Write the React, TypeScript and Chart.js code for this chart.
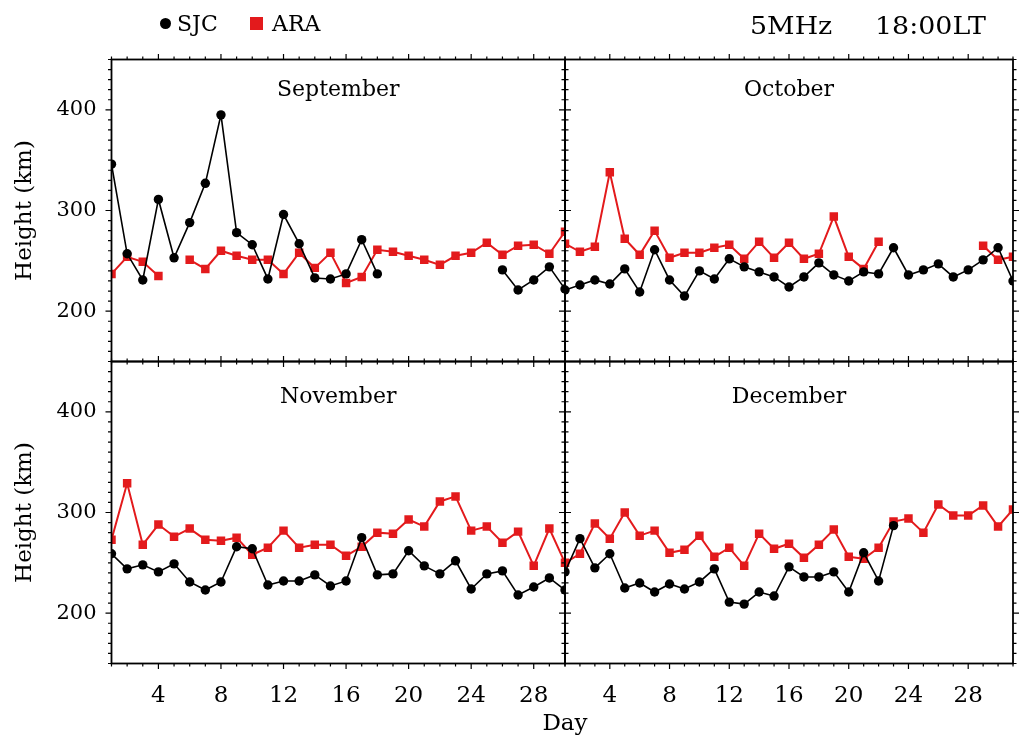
import React, { useEffect, useRef } from 'react';
import { Chart, registerables } from 'chart.js';

Chart.register(...registerables);

// Virtual height (km) of the 5 MHz trace at 18:00 LT, one value per day
const sepSJC = [346, 257, 231, 311, 253, 288, 327, 395, 278, 266, 232, 296, 267, 233, 232, 237, 271, 237, null, null, null, null, null, null, null, 241, 221, 231, 244, 222];
const sepARA = [237, 254, 249, 235, null, 251, 242, 260, 255, 251, 251, 237, 258, 243, 258, 228, 234, 261, 259, 255, 251, 246, 255, 258, 268, 256, 265, 266, 257, 279];
const octSJC = [221, 226, 231, 227, 242, 219, 261, 231, 215, 240, 232, 252, 244, 239, 234, 224, 234, 248, 236, 230, 239, 237, 263, 236, 241, 247, 234, 241, 251, 263, 230];
const octARA = [267, 259, 264, 338, 272, 256, 280, 253, 258, 258, 263, 266, 252, 269, 253, 268, 252, 257, 294, 254, 242, 269, null, null, null, null, null, null, 265, 251, 254];
const novSJC = [259, 244, 248, 241, 249, 231, 223, 231, 266, 264, 228, 232, 232, 238, 227, 232, 275, 238, 239, 262, 247, 239, 252, 224, 239, 242, 218, 226, 235, 223];
const novARA = [273, 329, 268, 288, 276, 284, 273, 272, 275, 258, 265, 282, 265, 268, 268, 257, 266, 280, 279, 293, 286, 311, 316, 282, 286, 270, 281, 247, 284, 250];
const decSJC = [241, 274, 245, 259, 225, 230, 221, 229, 224, 231, 244, 211, 209, 221, 217, 246, 236, 236, 241, 221, 260, 232, 287, null, null, null, null, null, null, null, null];
const decARA = [250, 259, 289, 274, 300, 277, 282, 260, 263, 277, 256, 265, 247, 279, 264, 269, 255, 268, 283, 256, 254, 265, 291, 294, 280, 308, 297, 297, 307, 286, 303];

const panelTitles = ['September', 'October', 'November', 'December'];
const yTickValues = [200, 300, 400];
const xTickValues = [4, 8, 12, 16, 20, 24, 28];
const heightRange = [150, 450];

const SERIF = '"DejaVu Serif", serif';
const RED = '#e31a1c';
const W = 1019;
const H = 738;

// Panel frame edges in page pixels
const LEFT = 111.5;
const MIDX = 565;
const RIGHT = 1017.5;
const TOP = 59.5;
const MIDY = 361.5;
const BOTTOM = 663.5;
const XAXIS_H = 50;

const toPoints = (vals: (number | null)[]) => vals.map((v, i) => ({ x: i + 1, y: v }));

// Draws the box around each panel, outward ticks (major/minor) and the month name
const framePlugin = {
  id: 'panelFrame',
  afterDraw(chart: any, _args: any, opts: any) {
    const { ctx, chartArea: a } = chart;
    const xs = chart.scales.x;
    const ys = chart.scales.y;
    ctx.save();
    ctx.strokeStyle = '#000';
    ctx.lineWidth = 1.2;
    ctx.beginPath();
    for (let d = xs.min; d <= xs.max; d++) {
      const px = xs.getPixelForValue(d);
      const len = d % 4 === 0 ? 5.5 : 3;
      ctx.moveTo(px, a.bottom);
      ctx.lineTo(px, a.bottom + len);
      ctx.moveTo(px, a.top);
      ctx.lineTo(px, a.top - len);
    }
    for (let v = ys.min; v <= ys.max; v += 10) {
      const py = ys.getPixelForValue(v);
      const len = v % 100 === 0 ? 6 : 3.5;
      ctx.moveTo(a.left, py);
      ctx.lineTo(a.left - len, py);
      ctx.moveTo(a.right, py);
      ctx.lineTo(a.right + len, py);
    }
    ctx.stroke();
    ctx.lineWidth = 1.8;
    ctx.strokeRect(a.left, a.top, a.right - a.left, a.bottom - a.top);
    ctx.fillStyle = '#000';
    ctx.font = `22px ${SERIF}`;
    ctx.textAlign = 'center';
    ctx.textBaseline = 'alphabetic';
    ctx.fillText(opts.title, (a.left + a.right) / 2, a.top + opts.titleOffset);
    ctx.restore();
  },
};

type PanelSpec = {
  title: string;
  sjc: (number | null)[];
  ara: (number | null)[];
  days: number;
  showX: boolean;
  showY: boolean;
  padding: { left: number; right: number; top: number; bottom: number };
  titleOffset: number;
};

const panels: PanelSpec[] = [
  { title: panelTitles[0], sjc: sepSJC, ara: sepARA, days: 30, showX: false, showY: true,
    padding: { left: 0, right: W - MIDX, top: TOP, bottom: H - MIDY }, titleOffset: 36.5 },
  { title: panelTitles[1], sjc: octSJC, ara: octARA, days: 31, showX: false, showY: false,
    padding: { left: MIDX, right: W - RIGHT, top: TOP, bottom: H - MIDY }, titleOffset: 36.5 },
  { title: panelTitles[2], sjc: novSJC, ara: novARA, days: 30, showX: true, showY: true,
    padding: { left: 0, right: W - MIDX, top: MIDY, bottom: H - BOTTOM - XAXIS_H }, titleOffset: 41.5 },
  { title: panelTitles[3], sjc: decSJC, ara: decARA, days: 31, showX: true, showY: false,
    padding: { left: MIDX, right: W - RIGHT, top: MIDY, bottom: H - BOTTOM - XAXIS_H }, titleOffset: 41.5 },
];

function makeConfig(p: PanelSpec): any {
  return {
    type: 'line',
    data: {
      datasets: [
        {
          label: 'SJC',
          data: toPoints(p.sjc),
          borderColor: '#000',
          backgroundColor: '#000',
          borderWidth: 1.6,
          pointStyle: 'circle',
          pointRadius: 4.7,
          pointBorderWidth: 0,
          pointBackgroundColor: '#000',
          clip: 0,
        },
        {
          label: 'ARA',
          data: toPoints(p.ara),
          borderColor: RED,
          backgroundColor: RED,
          borderWidth: 2,
          pointStyle: 'rect',
          pointRadius: 6,
          pointBorderWidth: 0,
          pointBackgroundColor: RED,
          clip: 0,
        },
      ],
    },
    options: {
      animation: false,
      responsive: false,
      devicePixelRatio: 1,
      events: [],
      layout: { padding: p.padding },
      plugins: {
        legend: { display: false },
        tooltip: { enabled: false },
        panelFrame: { title: p.title, titleOffset: p.titleOffset },
      },
      scales: {
        x: {
          type: 'linear',
          min: 1,
          max: p.days,
          display: p.showX,
          afterBuildTicks: (s: any) => {
            s.ticks = xTickValues.map((v) => ({ value: v }));
          },
          afterFit: (s: any) => {
            s.height = p.showX ? XAXIS_H : 0;
          },
          grid: { display: false, drawTicks: false },
          border: { display: false },
          ticks: {
            color: '#000',
            font: { family: SERIF, size: 23 },
            padding: 19,
            maxRotation: 0,
            autoSkip: false,
          },
        },
        y: {
          type: 'linear',
          min: heightRange[0],
          max: heightRange[1],
          display: p.showY,
          afterBuildTicks: (s: any) => {
            s.ticks = yTickValues.map((v) => ({ value: v }));
          },
          afterFit: (s: any) => {
            s.width = p.showY ? LEFT : 0;
          },
          grid: { display: false, drawTicks: false },
          border: { display: false },
          ticks: {
            color: '#000',
            font: { family: SERIF, size: 21 },
            padding: 15,
          },
          title: {
            display: true,
            text: 'Height (km)',
            color: '#000',
            font: { family: SERIF, size: 23 },
            padding: { top: 11, bottom: 0 },
          },
        },
      },
    },
    plugins: [framePlugin],
  };
}

export default function App() {
  const refs = [
    useRef<HTMLCanvasElement>(null),
    useRef<HTMLCanvasElement>(null),
    useRef<HTMLCanvasElement>(null),
    useRef<HTMLCanvasElement>(null),
  ];

  useEffect(() => {
    const charts = panels.map((p, i) => new Chart(refs[i].current as HTMLCanvasElement, makeConfig(p)));
    return () => charts.forEach((c) => c.destroy());
  }, []);

  const textStyle = (size: number): React.CSSProperties => ({
    position: 'absolute',
    fontFamily: SERIF,
    fontSize: size,
    lineHeight: `${size}px`,
    color: '#000',
    whiteSpace: 'nowrap',
  });

  return (
    <div style={{ position: 'absolute', left: 0, top: 0, width: W, height: H, background: '#fff', overflow: 'hidden' }}>
      {refs.map((r, i) => (
        <canvas
          key={i}
          ref={r}
          width={W}
          height={H}
          style={{ position: 'absolute', left: 0, top: 0, width: W, height: H }}
        />
      ))}
      {/* legend */}
      <div style={{ position: 'absolute', left: 160, top: 18, width: 11, height: 11, borderRadius: '50%', background: '#000' }} />
      <div style={{ ...textStyle(22), left: 177, top: 12.7 }}>SJC</div>
      <div style={{ position: 'absolute', left: 250, top: 17, width: 13, height: 13, background: RED }} />
      <div style={{ ...textStyle(22), left: 272, top: 12.7 }}>ARA</div>
      {/* frequency and local time */}
      <div style={{ ...textStyle(24), left: 750, top: 14.2, transform: 'scaleX(1.12)', transformOrigin: 'left center' }}>5MHz</div>
      <div style={{ ...textStyle(24), left: 875, top: 14.2, transform: 'scaleX(1.12)', transformOrigin: 'left center' }}>18:00LT</div>
      {/* shared x-axis title */}
      <div style={{ ...textStyle(23), left: MIDX, top: 711, transform: 'translateX(-50%)' }}>Day</div>
    </div>
  );
}
